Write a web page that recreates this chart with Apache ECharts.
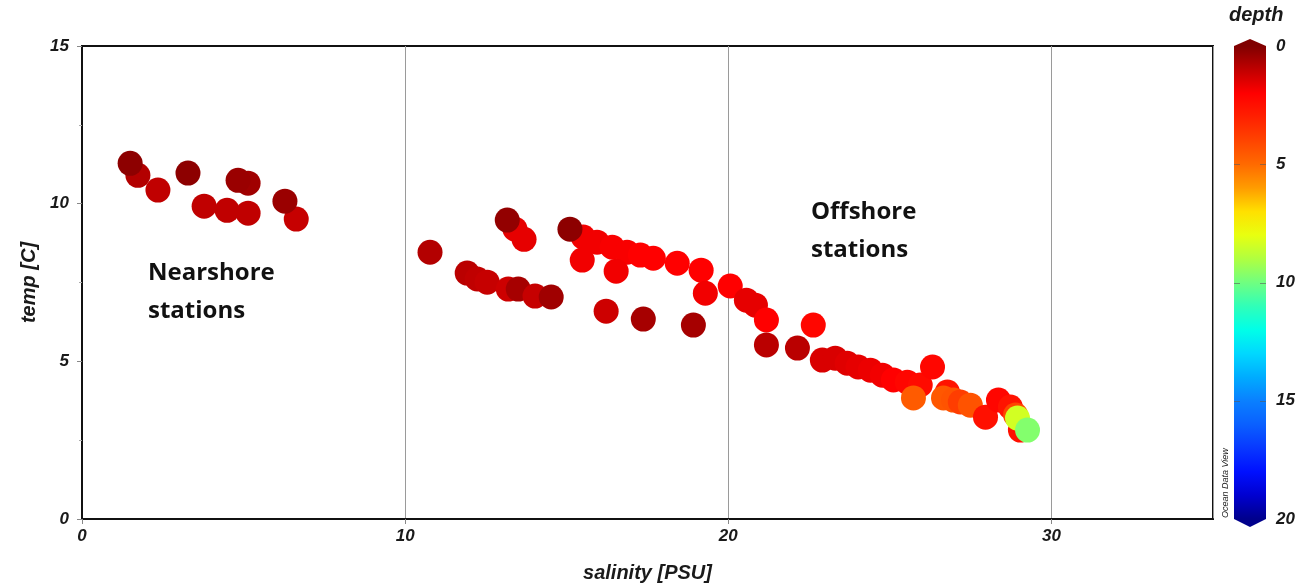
<!DOCTYPE html>
<html>
<head>
<meta charset="utf-8">
<title>T-S diagram</title>
<script src="https://cdn.jsdelivr.net/npm/echarts/dist/echarts.min.js"></script>
<style>
  html, body { margin: 0; padding: 0; background: #fff; }
  #chart { width: 1304px; height: 588px; }
</style>
</head>
<body>
<div id="chart"></div>
<script>
// Station samples: salinity [PSU], temperature [C], sample depth [m]
const salinity = [
  1.73, 1.49, 2.35, 3.28, 3.78, 4.49, 5.14, 4.83, 5.14, 6.63, 6.28,
  10.77, 11.92, 12.23, 12.54, 13.19, 13.50, 14.02, 14.52,
  13.68, 13.40, 13.16,
  15.51, 15.94, 16.41, 16.87, 17.28, 17.68, 18.42, 19.16, 15.10,
  15.48, 16.53, 16.22, 17.37, 18.92, 19.29, 20.06, 20.56, 20.84, 21.18,
  21.18, 22.14, 22.63,
  22.91, 23.31, 23.68, 24.02, 24.40, 24.77, 25.11, 25.54, 25.94, 26.32,
  26.78, 25.73, 26.66, 26.97, 27.18, 27.49, 27.96, 28.36, 28.73, 28.89,
  29.04, 28.95, 29.26
];
const temperature = [
  10.90, 11.28, 10.43, 10.97, 9.92, 9.79, 10.65, 10.74, 9.70, 9.51, 10.08,
  8.46, 7.80, 7.61, 7.51, 7.29, 7.29, 7.07, 7.04,
  8.87, 9.19, 9.48,
  8.94, 8.78, 8.62, 8.46, 8.37, 8.27, 8.11, 7.89, 9.19,
  8.21, 7.86, 6.59, 6.34, 6.15, 7.16, 7.39, 6.94, 6.78, 6.31,
  5.52, 5.42, 6.15,
  5.04, 5.10, 4.94, 4.82, 4.72, 4.56, 4.41, 4.34, 4.25, 4.82,
  4.03, 3.84, 3.84, 3.77, 3.71, 3.61, 3.23, 3.77, 3.55, 3.30,
  2.82, 3.20, 2.82
];
const depth = [
  0.8, 0.2, 1.0, 0.2, 1.0, 1.0, 0.5, 0.4, 1.0, 1.1, 0.4,
  0.8, 0.9, 1.0, 1.1, 1.2, 0.6, 1.1, 0.5,
  1.6, 1.6, 0.3,
  1.8, 1.8, 1.9, 1.9, 2.0, 2.0, 2.0, 2.0, 0.2,
  1.8, 1.8, 1.2, 0.6, 0.6, 1.8, 2.0, 1.6, 1.6, 2.0,
  0.9, 0.9, 2.2,
  1.4, 1.4, 1.5, 1.6, 1.7, 1.8, 2.0, 2.2, 2.3, 2.2,
  2.6, 4.6, 4.5, 4.4, 3.8, 4.4, 2.5, 2.2, 2.6, 4.0,
  2.5, 8.4, 9.7
];

// Depth palette, one colour per metre from 0 to 20
const depthColors = [
  '#800000', '#c00000', '#ff0000', '#ff2000', '#ff4400', '#ff6a00',
  '#ff9c00', '#ffe000', '#e8ff10', '#b0ff40', '#70ff80', '#30ffb8',
  '#00ffe8', '#00d8ff', '#00acff', '#0a80ff', '#0a60ff', '#0838ff',
  '#0010ff', '#0000d0', '#00008c'
];
const depthTicks = [0, 5, 10, 15, 20];
const salinityTicks = [0, 10, 20, 30];
const tempTicks = [0, 5, 10, 15];

const points = salinity.map((s, i) => [s, temperature[i], depth[i]]);

const axisFont = {
  fontFamily: 'Liberation Sans, Arial, sans-serif',
  fontWeight: 'bold',
  fontStyle: 'italic',
  color: '#1a1a1a'
};

const chart = echarts.init(document.getElementById('chart'), null, { renderer: 'canvas' });

chart.setOption({
  backgroundColor: '#ffffff',
  animation: false,
  grid: [
    { left: 82, top: 46, width: 1131, height: 473, show: true,
      borderColor: '#111', borderWidth: 2, backgroundColor: 'transparent' },
    { left: 1234, top: 46, width: 32, height: 473 }
  ],
  xAxis: [
    {
      gridIndex: 0, type: 'value', min: 0, max: 35, interval: 10,
      name: 'salinity [PSU]', nameLocation: 'middle', nameGap: 44,
      nameTextStyle: Object.assign({ fontSize: 20 }, axisFont),
      axisLine: { show: true, lineStyle: { color: '#111', width: 2 } },
      axisTick: { show: true, length: 5, lineStyle: { color: '#888' } },
      splitLine: { show: true, lineStyle: { color: '#9a9a9a', width: 1 } },
      axisLabel: Object.assign({
        fontSize: 17, margin: 9, showMaxLabel: false,
        formatter: v => salinityTicks.includes(v) ? String(v) : ''
      }, axisFont)
    },
    { gridIndex: 1, type: 'value', min: 0, max: 1, show: false }
  ],
  yAxis: [
    {
      gridIndex: 0, type: 'value', min: 0, max: 15, interval: 5,
      name: 'temp [C]', nameLocation: 'middle', nameGap: 42, nameRotate: 90,
      nameTextStyle: Object.assign({ fontSize: 20 }, axisFont),
      axisLine: { show: true, lineStyle: { color: '#111', width: 2 } },
      axisTick: { show: true, length: 5, lineStyle: { color: '#888' } },
      minorTick: { show: true, splitNumber: 2, length: 3, lineStyle: { color: '#aaa' } },
      splitLine: { show: false },
      axisLabel: Object.assign({
        fontSize: 17, margin: 13,
        formatter: v => tempTicks.includes(v) ? String(v) : ''
      }, axisFont)
    },
    {
      gridIndex: 1, type: 'value', min: 0, max: 20, interval: 5, inverse: true,
      position: 'right',
      axisLine: { show: false },
      axisTick: { show: false },
      splitLine: { show: false },
      axisLabel: Object.assign({
        fontSize: 17, margin: 10,
        formatter: v => depthTicks.includes(v) ? String(v) : ''
      }, axisFont)
    }
  ],
  visualMap: {
    type: 'continuous', show: false, seriesIndex: 0, dimension: 2,
    min: 0, max: 20, inRange: { color: depthColors }
  },
  series: [
    {
      type: 'scatter', xAxisIndex: 0, yAxisIndex: 0,
      symbol: 'circle', symbolSize: 25,
      itemStyle: { opacity: 1 },
      data: points
    },
    {
      // colour bar with pointed ends, drawn on the depth axis
      type: 'custom', xAxisIndex: 1, yAxisIndex: 1, clip: false, silent: true,
      data: [[0, depthTicks[0], 1, depthTicks[depthTicks.length - 1]]],
      renderItem: function (params, api) {
        const p0 = api.coord([api.value(0), api.value(1)]);
        const p1 = api.coord([api.value(2), api.value(3)]);
        const l = Math.min(p0[0], p1[0]), r = Math.max(p0[0], p1[0]);
        const t = Math.min(p0[1], p1[1]), b = Math.max(p0[1], p1[1]);
        const cx = (l + r) / 2;
        const stops = depthColors.map((c, i) => ({ offset: i / (depthColors.length - 1), color: c }));
        const children = [{
          type: 'polygon',
          shape: { points: [[l, t], [cx, t - 7], [r, t], [r, b], [cx, b + 8], [l, b]] },
          style: {
            fill: new echarts.graphic.LinearGradient(0, t, 0, b, stops, true),
            stroke: null
          }
        }];
        // small tick dashes along both edges of the bar
        depthTicks.slice(1, -1).forEach(d => {
          const y = Math.round(api.coord([0, d])[1]) + 0.5;
          children.push({ type: 'line', shape: { x1: l, y1: y, x2: l + 6, y2: y },
                          style: { stroke: 'rgba(90,90,90,0.6)', lineWidth: 1 } });
          children.push({ type: 'line', shape: { x1: r - 6, y1: y, x2: r, y2: y },
                          style: { stroke: 'rgba(90,90,90,0.6)', lineWidth: 1 } });
        });
        return { type: 'group', children: children };
      }
    }
  ],
  graphic: [
    { type: 'text', left: 148, top: 254,
      style: { text: 'Nearshore\nstations', font: 'bold 24px "Open Sans", "Noto Sans", sans-serif',
               lineHeight: 38, fill: '#111' } },
    { type: 'text', left: 811, top: 193,
      style: { text: 'Offshore\nstations', font: 'bold 24px "Open Sans", "Noto Sans", sans-serif',
               lineHeight: 38, fill: '#111' } },
    { type: 'text', left: 1229, top: 5,
      style: { text: 'depth', font: 'italic bold 20px "Liberation Sans", Arial, sans-serif', fill: '#1a1a1a' } },
    { type: 'text', x: 1225, y: 518, rotation: Math.PI / 2,
      style: { text: 'Ocean Data View', font: 'italic 9px "Liberation Sans", Arial, sans-serif',
               fill: '#222', align: 'left', verticalAlign: 'middle' } }
  ]
});
</script>
</body>
</html>
